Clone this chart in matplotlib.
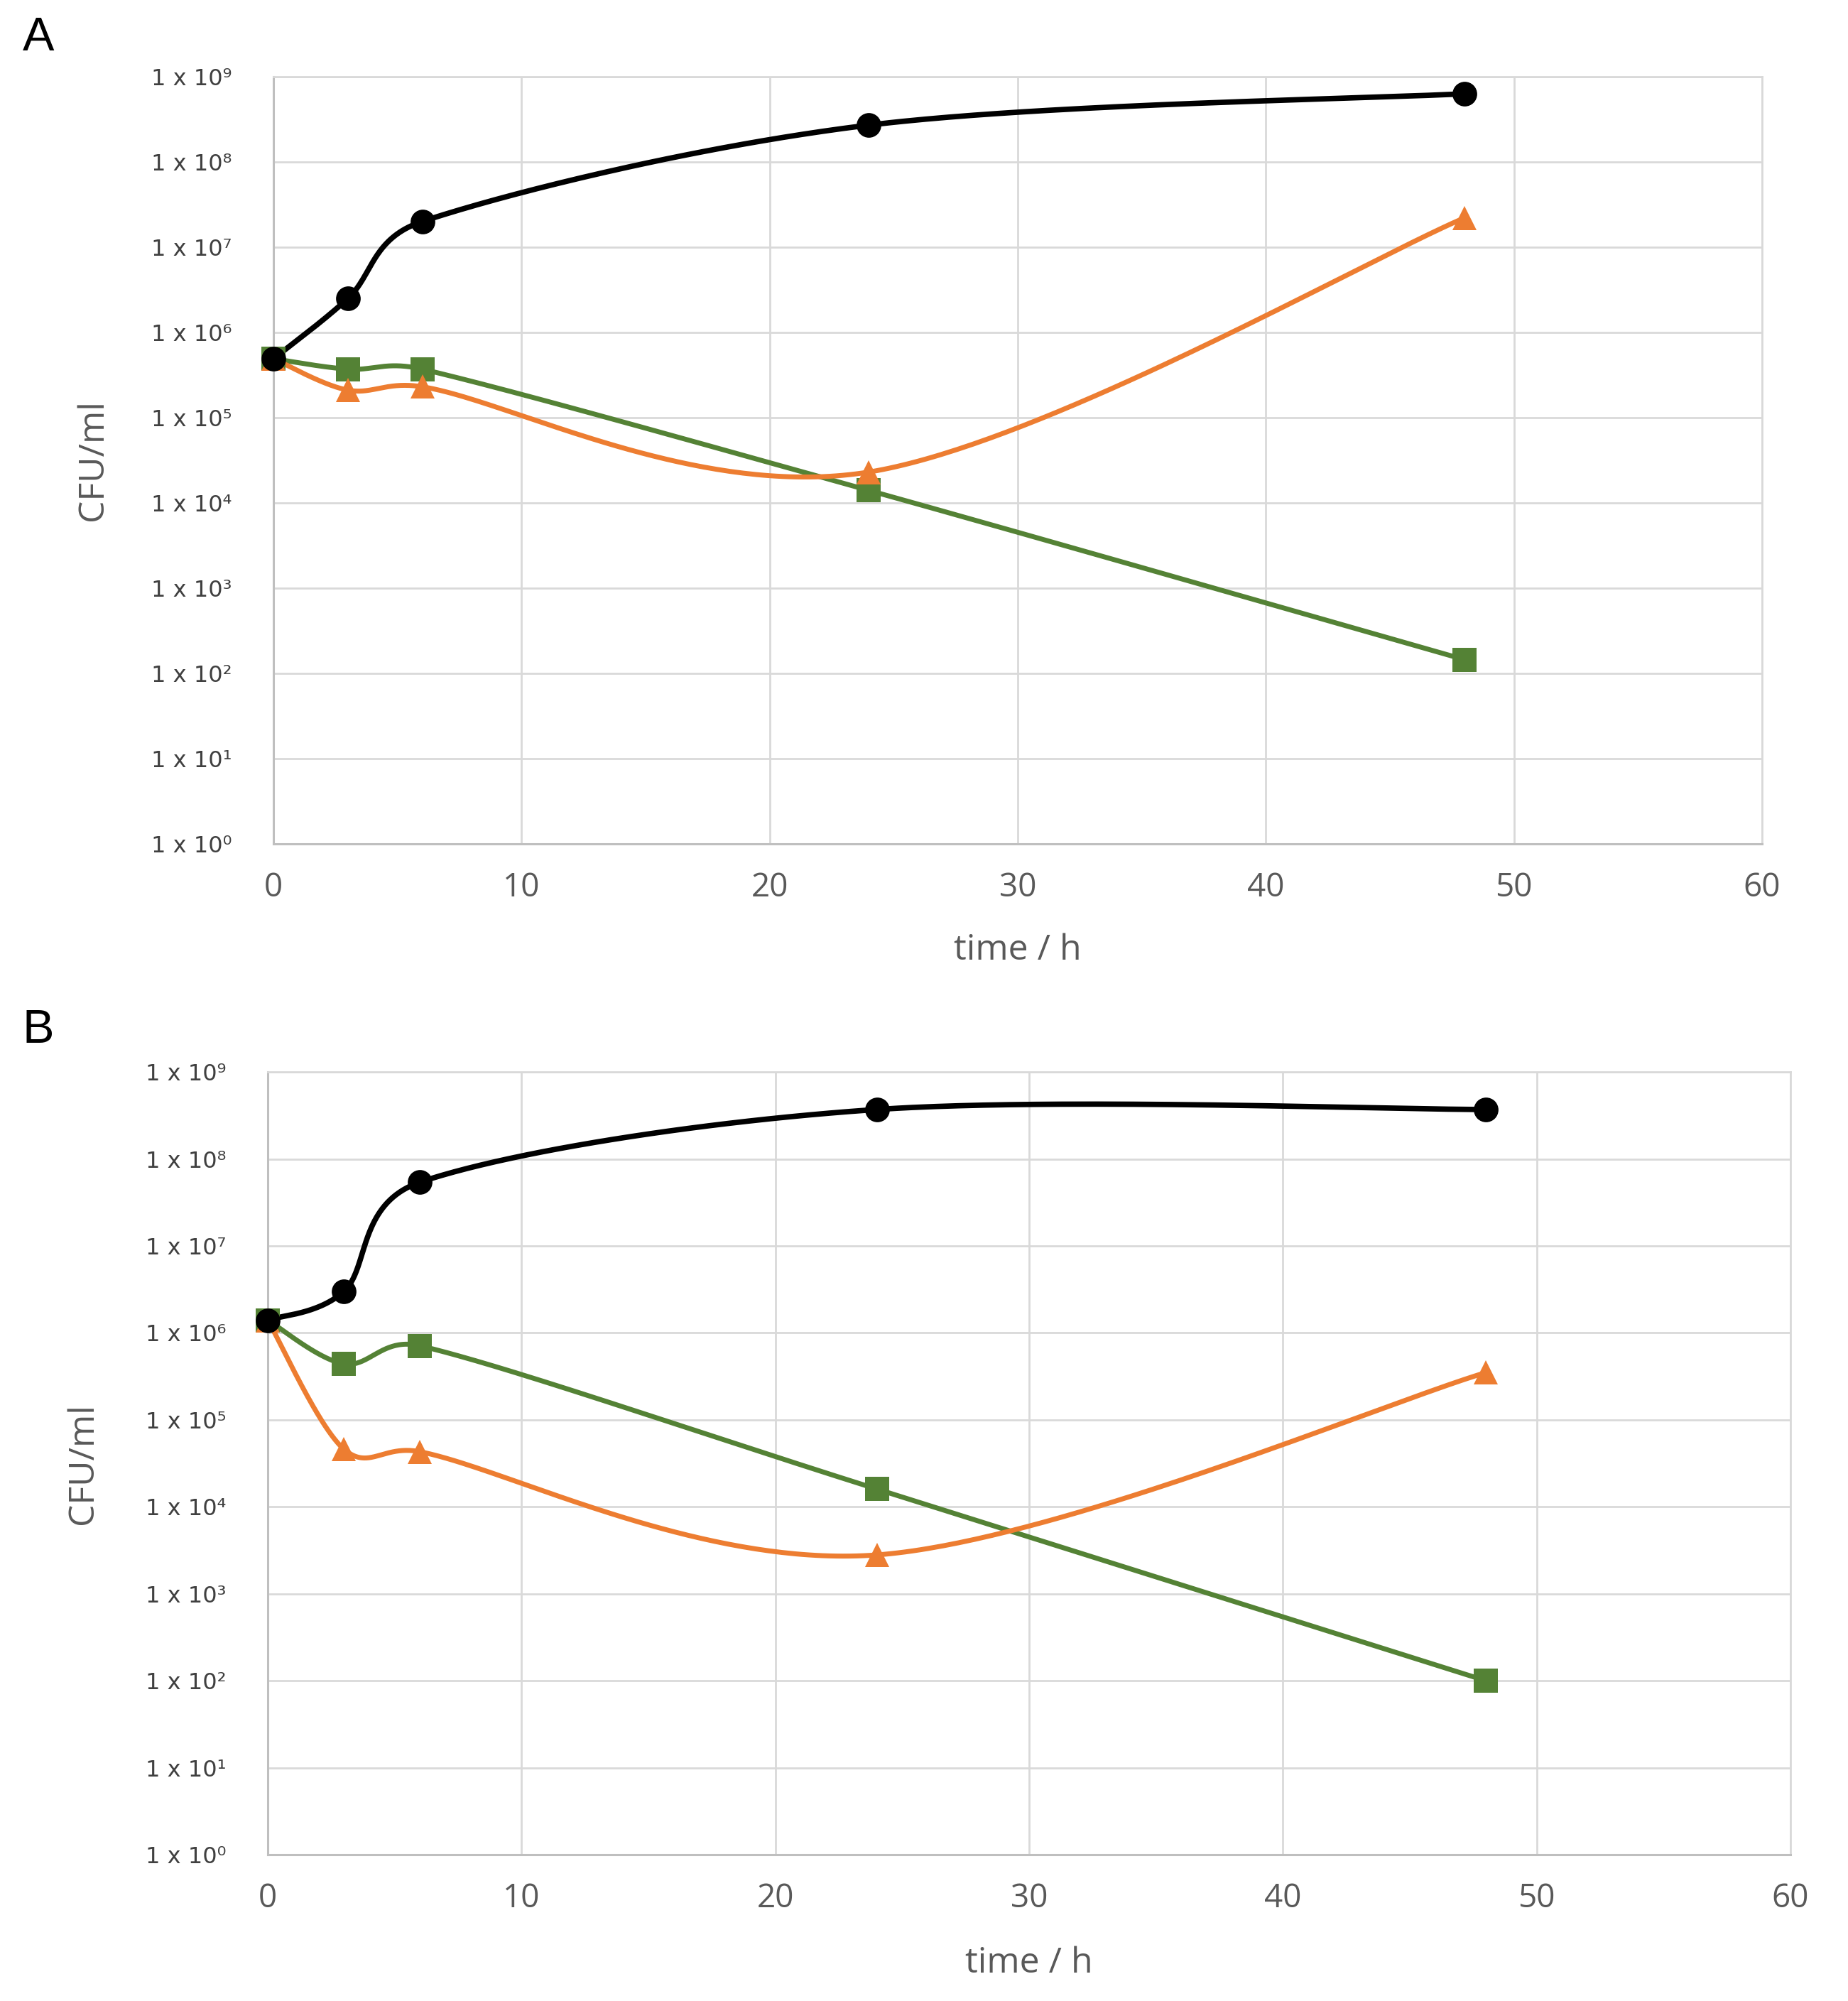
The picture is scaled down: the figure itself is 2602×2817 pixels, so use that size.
import numpy as np
import matplotlib
matplotlib.use("Agg")
import matplotlib.pyplot as plt

# sampling times (h)
time_h = [0, 3, 6, 24, 48]

# panel A, CFU/ml
a_black = [4.9e5, 2.5e6, 2.0e7, 2.7e8, 6.3e8]
a_orange = [4.9e5, 2.1e5, 2.3e5, 2.3e4, 2.2e7]
a_green = [4.9e5, 3.7e5, 3.7e5, 1.4e4, 1.45e2]

# panel B, CFU/ml
b_black = [1.4e6, 3.0e6, 5.4e7, 3.7e8, 3.7e8]
b_orange = [1.4e6, 4.6e4, 4.3e4, 2.8e3, 3.5e5]
b_green = [1.4e6, 4.4e5, 7.1e5, 1.6e4, 1.0e2]

x_ticks = [0, 10, 20, 30, 40, 50, 60]
y_exp = list(range(10))
sup = "⁰¹²³⁴⁵⁶⁷⁸⁹"
y_labels = ["1 x 10" + sup[e] for e in y_exp]

GRAY = "#595959"
GRID = "#d9d9d9"
ORANGE = "#ED7D31"
GREEN = "#548235"


def smooth(x, y, sx, sy, n=80, f=1 / 6, g=0.5):
    # Excel-like smoothed line, built in screen-like units (x*sx, log y*sy);
    # control arms are clamped so short segments do not loop back
    px = np.array(x, dtype=float) * sx
    py = np.log10(np.array(y, dtype=float)) * sy
    m = len(px)
    xs, ys = [], []
    for i in range(m - 1):
        i0 = max(i - 1, 0)
        i3 = min(i + 2, m - 1)
        seg = np.hypot(px[i + 1] - px[i], py[i + 1] - py[i])
        a = np.array([px[i + 1] - px[i0], py[i + 1] - py[i0]]) * f
        b = np.array([px[i3] - px[i], py[i3] - py[i]]) * f
        for v in (a, b):
            L = np.hypot(*v)
            if L > g * seg:
                v *= g * seg / L
        c1x, c1y = px[i] + a[0], py[i] + a[1]
        c2x, c2y = px[i + 1] - b[0], py[i + 1] - b[1]
        t = np.linspace(0, 1, n)
        b0 = (1 - t) ** 3
        b1 = 3 * (1 - t) ** 2 * t
        b2 = 3 * (1 - t) * t ** 2
        b3 = t ** 3
        xs.append(b0 * px[i] + b1 * c1x + b2 * c2x + b3 * px[i + 1])
        ys.append(b0 * py[i] + b1 * c1y + b2 * c2y + b3 * py[i + 1])
    return np.concatenate(xs) / sx, 10 ** (np.concatenate(ys) / sy)


def panel(ax, black, orange, green):
    bb = ax.get_position()
    sx = bb.width * 2602 / 60
    sy = bb.height * 2817 / 9
    for vals, col, mk, ms, lw in [(green, GREEN, "s", 24, 5),
                                  (orange, ORANGE, "^", 25, 5),
                                  (black, "black", "o", 25, 5.5)]:
        cx, cy = smooth(time_h, vals, sx, sy)
        ax.plot(cx, cy, color=col, lw=lw, solid_capstyle="round", zorder=3)
        ax.plot(time_h, vals, ls="none", marker=mk, ms=ms, color=col,
                markeredgewidth=0, zorder=4, clip_on=False)

    ax.set_yscale("log")
    ax.set_xlim(0, 60)
    ax.set_ylim(1, 1e9)
    ax.set_xticks(x_ticks)
    ax.set_xticklabels([str(v) for v in x_ticks], fontsize=33, color=GRAY,
                       family=["Open Sans", "DejaVu Sans"])
    ax.set_yticks([10.0 ** e for e in y_exp])
    ax.set_yticklabels(y_labels, fontsize=23, color="#404040",
                       family=["DejaVu Sans"])
    ax.minorticks_off()
    ax.tick_params(axis="x", length=0, pad=28)
    ax.tick_params(axis="y", length=0, pad=42)
    ax.grid(True, color=GRID, lw=2)
    ax.set_axisbelow(True)
    for s in ["top", "right"]:
        ax.spines[s].set_color(GRID)
        ax.spines[s].set_linewidth(2)
    for s in ["left", "bottom"]:
        ax.spines[s].set_color("#bfbfbf")
        ax.spines[s].set_linewidth(2.2)

    ax.set_xlabel("time / h", fontsize=36, color=GRAY,
                  family=["Open Sans", "DejaVu Sans"])
    ax.set_ylabel("CFU/ml", fontsize=36, color=GRAY,
                  family=["Open Sans", "DejaVu Sans"])
    ax.xaxis.label.set_va("center")
    ax.yaxis.label.set_va("center")


fig = plt.figure(figsize=(26.02, 28.17), dpi=100)

ax_a = fig.add_axes([0.148, 0.5783, 0.8055, 0.3834])
panel(ax_a, a_black, a_orange, a_green)
ax_a.xaxis.set_label_coords(0.5, -0.139)
ax_a.yaxis.set_label_coords(-0.121, 0.5)

ax_b = fig.add_axes([0.1449, 0.0731, 0.824, 0.3912])
panel(ax_b, b_black, b_orange, b_green)
ax_b.xaxis.set_label_coords(0.5, -0.139)
ax_b.yaxis.set_label_coords(-0.121, 0.5)

fig.text(0.0208, 0.981, "A", fontsize=48, ha="center", va="center",
         family=["Liberation Sans", "DejaVu Sans"])
fig.text(0.0208, 0.485, "B", fontsize=48, ha="center", va="center",
         family=["Liberation Sans", "DejaVu Sans"])

fig.savefig("out.png", dpi=100, facecolor="white")
